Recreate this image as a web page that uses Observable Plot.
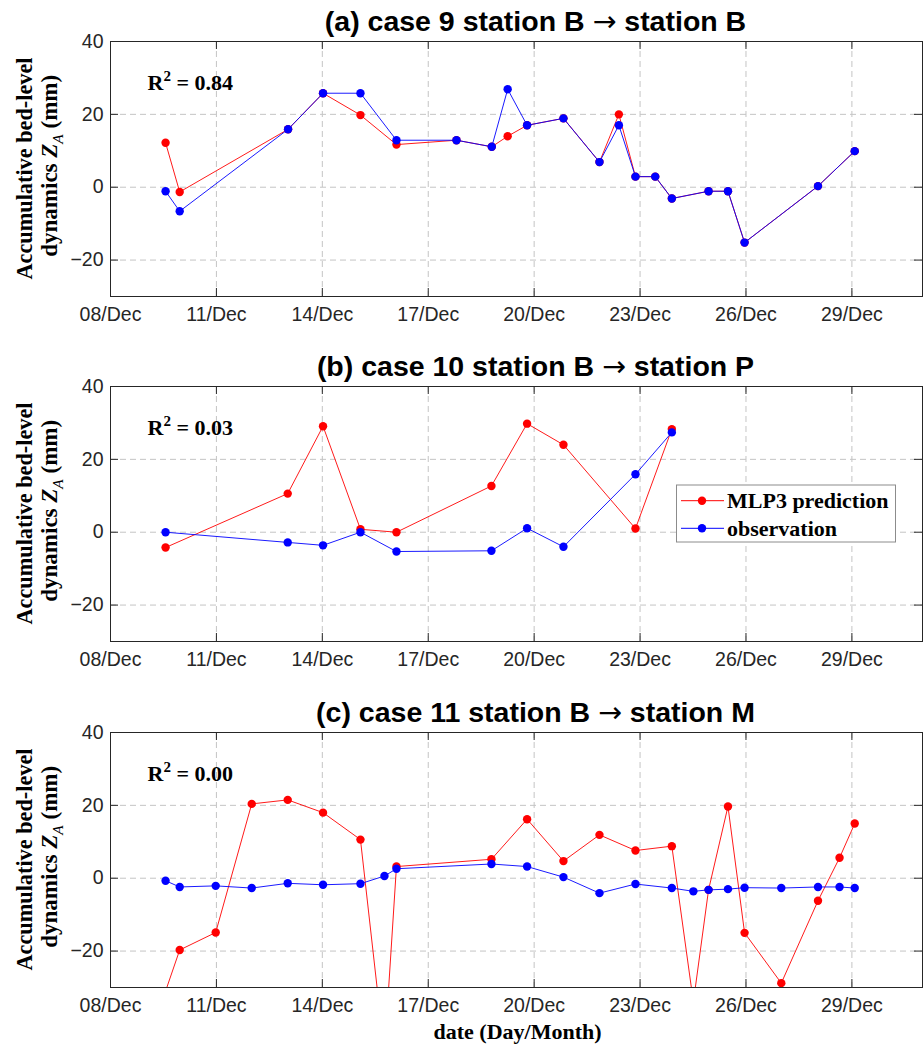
<!DOCTYPE html>
<html>
<head>
<meta charset="utf-8">
<script src="https://cdn.jsdelivr.net/npm/d3@7"></script>
<script src="https://cdn.jsdelivr.net/npm/@observablehq/plot@0.6"></script>
<style>
  body { margin: 0; background: #fff; }
  #chart svg { display: block; }
  #chart g[aria-label="x-axis tick label"], #chart g[aria-label="y-axis tick label"] { font-size: 19.5px; }
</style>
</head>
<body>
<div id="chart"></div>
<script>
// ---- tick values ----
const xTicks = [8, 11, 14, 17, 20, 23, 26, 29];   // day of December
const yTicks = [-20, 0, 20, 40];

// ---- panel (a) case 9 station B -> station B ----
const aDays = [9.56, 9.96, 13.03, 14.02, 15.08, 16.1, 17.8, 18.8, 19.25, 19.8, 20.83, 21.85, 22.4, 22.87, 23.43, 23.9, 24.94, 25.49, 25.96, 28.04, 29.08];
const aPred = [12.2, -1.3, 15.9, 25.8, 19.8, 11.7, 12.9, 11.1, 14.0, 17.0, 18.9, 6.9, 20.0, 2.9, 2.9, -3.1, -1.1, -1.1, -15.2, 0.3, 9.9];
const aObs  = [-1.1, -6.6, 15.9, 25.8, 25.8, 12.9, 12.9, 11.1, 26.9, 17.0, 18.9, 6.9, 17.0, 2.9, 2.9, -3.1, -1.1, -1.1, -15.2, 0.3, 9.9];

// ---- panel (b) case 10 station B -> station P ----
const bDays = [9.56, 13.02, 14.02, 15.08, 16.1, 18.79, 19.8, 20.83, 22.87, 23.9];
const bPred = [-4.2, 10.6, 29.1, 0.8, 0.0, 12.7, 29.8, 24.0, 1.0, 28.3];
const bObs  = [0.0, -2.8, -3.6, 0.0, -5.3, -5.1, 1.1, -4.0, 15.9, 27.4];

// ---- panel (c) case 11 station B -> station M ----
const cDays = [9.56, 9.96, 10.98, 12.0, 13.02, 14.02, 15.08, 15.76, 16.1, 18.79, 19.8, 20.83, 21.85, 22.87, 23.9, 24.51, 24.94, 25.49, 25.96, 27.0, 28.04, 28.65, 29.08];
const cPred = [-31, -19.7, -14.9, 20.4, 21.5, 18.0, 10.6, -48, 3.2, 5.2, 16.2, 4.7, 11.9, 7.6, 8.8, -34, -3.2, 19.7, -15.0, -28.8, -6.2, 5.6, 15.0];
const cObs  = [-0.7, -2.4, -2.1, -2.7, -1.4, -1.8, -1.5, 0.6, 2.6, 3.9, 3.2, 0.3, -4.1, -1.6, -2.7, -3.6, -3.2, -3.0, -2.6, -2.7, -2.4, -2.4, -2.7];

const titles = ["(a) case 9 station B \u2192 station B", "(b) case 10 station B \u2192 station P", "(c) case 11 station B \u2192 station M"];
const r2Values = ["0.84", "0.03", "0.00"];
const seriesNames = ["MLP3 prediction", "observation"];
const xAxisTitle = "date (Day/Month)";

const RED = "#ff0000", BLUE = "#0000ff", INK = "#262626";
const SANS = "'Liberation Sans', Arial, Helvetica, sans-serif";
const SERIF = "'Liberation Serif', 'Times New Roman', Times, serif";
const FRAME_H = 255;

function panel({days, pred, obs, title, r2, height, mt, mb, legend, xTitle}) {
  const predData = days.map((d, i) => ({day: d, v: pred[i]}));
  const obsData = days.map((d, i) => ({day: d, v: obs[i]}));
  const fmt = d => String(d).padStart(2, "0") + "/Dec";
  const marks = [
    Plot.gridX(xTicks, {stroke: "#c4c4c4", strokeOpacity: 1, strokeDasharray: "6,4"}),
    Plot.gridY(yTicks, {stroke: "#c4c4c4", strokeOpacity: 1, strokeDasharray: "6,4"}),
    // inward ticks on all four sides
    Plot.ruleX(xTicks, {stroke: INK, insetTop: FRAME_H - 8}),
    Plot.ruleX(xTicks, {stroke: INK, insetBottom: FRAME_H - 8}),
    Plot.ruleY(yTicks, {stroke: INK, insetRight: 804}),
    Plot.ruleY(yTicks, {stroke: INK, insetLeft: 804}),
    Plot.axisX({ticks: xTicks, tickFormat: fmt, tickSize: 0, tickPadding: 11, label: null, fill: INK}),
    Plot.axisY({ticks: yTicks, tickSize: 0, tickPadding: 7, label: null, fill: INK}),
    Plot.frame({stroke: INK, strokeWidth: 1}),
    Plot.line(predData, {x: "day", y: "v", stroke: RED, strokeWidth: 0.9, clip: true}),
    Plot.dot(predData, {x: "day", y: "v", r: 4.2, fill: RED, stroke: "none", clip: true}),
    Plot.line(obsData, {x: "day", y: "v", stroke: BLUE, strokeWidth: 0.9, clip: true}),
    Plot.dot(obsData, {x: "day", y: "v", r: 4.2, fill: BLUE, stroke: "none", clip: true}),
    Plot.text([title], {className: "ptitle", frameAnchor: "top", lineAnchor: "middle", dx: 19, dy: -20, fontFamily: SANS, fontWeight: "bold", fontSize: 28.5, fill: "#000"}),
    Plot.text(["R2 = " + r2], {className: "pr2", frameAnchor: "top-left", lineAnchor: "middle", textAnchor: "start", dx: 37, dy: 41, fontFamily: SERIF, fontWeight: "bold", fontSize: 22, fill: "#000"})
  ];
  if (xTitle) {
    marks.push(Plot.text([xTitle], {frameAnchor: "bottom", lineAnchor: "middle", dx: 1, dy: 44, fontFamily: SERIF, fontWeight: "bold", fontSize: 22, fill: "#000"}));
  }
  const svg = Plot.plot({
    width: 924,
    height,
    marginLeft: 110,
    marginRight: 2,
    marginTop: mt,
    marginBottom: mb,
    style: {fontFamily: SANS, fontSize: "19px", color: INK, background: "#fff", overflow: "visible"},
    x: {domain: [8, 31]},
    y: {domain: [-30, 40]},
    marks
  });
  const s = d3.select(svg);

  // title: draw the arrow with a wider arrow glyph
  const tt = s.select("g.ptitle text");
  const [pre, post] = title.split("\u2192");
  tt.text(null);
  tt.append("tspan").text(pre);
  tt.append("tspan").attr("font-family", "'DejaVu Sans', sans-serif").attr("font-weight", "normal").text("\u2192");
  tt.append("tspan").text(post);

  // R^2 with a real superscript
  const rt = s.select("g.pr2 text");
  rt.text(null);
  rt.append("tspan").text("R");
  rt.append("tspan").attr("font-size", 15).attr("dy", -9).text("2");
  rt.append("tspan").attr("dy", 9).text(" = " + r2);

  // y-axis label (two lines, rotated), with italic Z and subscript A
  const cy = mt + FRAME_H / 2;
  s.append("text")
    .attr("transform", `translate(32,${cy}) rotate(-90)`)
    .attr("text-anchor", "middle")
    .attr("textLength", 222).attr("lengthAdjust", "spacingAndGlyphs")
    .attr("font-family", SERIF).attr("font-weight", "bold").attr("font-size", 22.5).attr("fill", "#000")
    .text("Accumulative bed-level");
  const t2 = s.append("text")
    .attr("transform", `translate(56.5,${cy - 2.7}) rotate(-90)`)
    .attr("text-anchor", "middle")
    .attr("textLength", 182).attr("lengthAdjust", "spacingAndGlyphs")
    .attr("font-family", SERIF).attr("font-weight", "bold").attr("font-size", 22.5).attr("fill", "#000");
  t2.append("tspan").text("dynamics ");
  t2.append("tspan").attr("font-style", "italic").text("Z");
  t2.append("tspan").attr("font-style", "italic").attr("font-weight", "normal").attr("font-size", 15).attr("dy", 6).text("A");
  t2.append("tspan").attr("dy", -6).text(" (mm)");

  if (legend) {
    const L = s.append("g");
    const x0 = 676.5, y0 = mt + (485 - 386), w = 219, h = 57;
    L.append("rect").attr("x", x0).attr("y", y0).attr("width", w).attr("height", h)
      .attr("fill", "#fff").attr("stroke", "#8c8c8c").attr("stroke-width", 1);
    const rows = [[seriesNames[0], RED], [seriesNames[1], BLUE]];
    rows.forEach(([name, col], i) => {
      const yy = y0 + 15.7 + i * 27.6;
      L.append("line").attr("x1", 681).attr("x2", 724).attr("y1", yy).attr("y2", yy).attr("stroke", col).attr("stroke-width", 1);
      L.append("circle").attr("cx", 702).attr("cy", yy).attr("r", 4.2).attr("fill", col);
      L.append("text").attr("x", 727).attr("y", yy).attr("dy", "0.33em")
        .attr("text-anchor", "start")
        .attr("font-family", SERIF).attr("font-weight", "bold").attr("font-size", 22).attr("fill", "#000")
        .text(name);
    });
  }
  return svg;
}

const chart = document.getElementById("chart");
chart.appendChild(panel({days: aDays, pred: aPred, obs: aObs, title: titles[0], r2: r2Values[0], height: 345, mt: 41, mb: 49}));
chart.appendChild(panel({days: bDays, pred: bPred, obs: bObs, title: titles[1], r2: r2Values[1], height: 345, mt: 41, mb: 49, legend: true}));
chart.appendChild(panel({days: cDays, pred: cPred, obs: cObs, title: titles[2], r2: r2Values[2], height: 356, mt: 42, mb: 59, xTitle: xAxisTitle}));
</script>
</body>
</html>
